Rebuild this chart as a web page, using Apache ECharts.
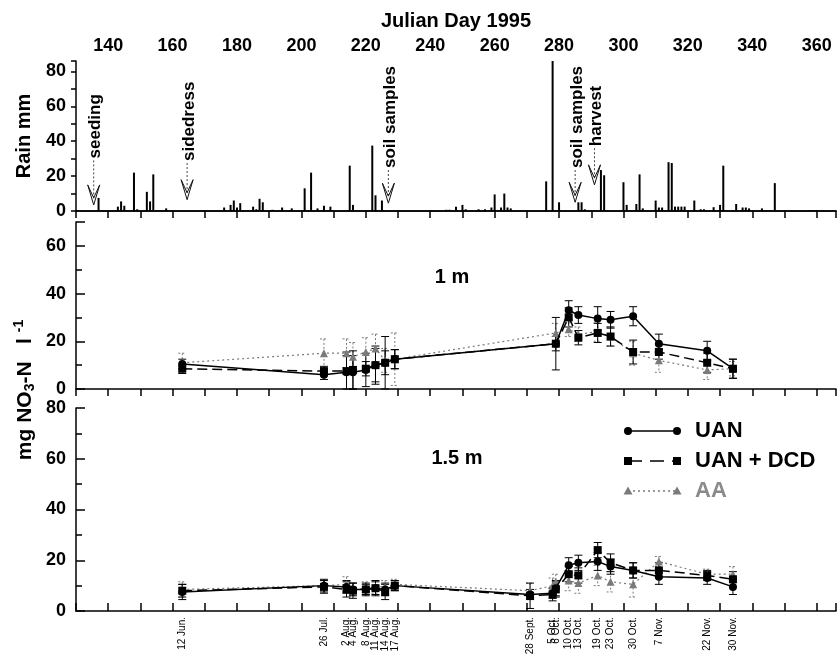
<!DOCTYPE html>
<html><head><meta charset="utf-8">
<script src="https://cdn.jsdelivr.net/npm/echarts@6/dist/echarts.min.js"></script>
<style>html,body{margin:0;padding:0;background:#fff}#c{width:838px;height:655px}</style>
</head><body><div id="c"></div>
<script>
// ---------- DATA ----------
const rainDays = [137,143,144,145,148,149,152,153,154,158,176,178,179,180,181,185,186,187,188,191,194,197,201,203,205,207,209,215,216,222,223,225,245,246,248,250,251,255,257,259,260,262,263,264,265,276,278,280,286,287,288,293,294,300,301,304,305,306,310,311,312,314,315,316,317,318,319,322,324,325,328,330,331,335,337,338,339,343,347,358,359,360];
const rainMm   = [7.5,2.5,5.5,3,22,1,11,5.5,21,1.5,2,3.5,6,2,4.5,2.5,1,7,5,0.7,2,1.5,13,22,1.5,3,2.5,26,3.5,37.5,9,6,0.7,0.7,2.5,3.5,1,1,1,2,9.5,2,10,2,1.5,17,86,5,5,5,1,23.5,20.5,16.5,3.5,4,21,1.5,6,2,2,28,27.5,2.5,2.5,2.5,2.5,6,1,1,2.2,3.5,26,4,2,2,1.5,1.5,16,0.5,0.5,0.5];

const eventDays   = [135.5,164.5,227,285,291];
const eventLabels = ['seeding','sidedress','soil samples','soil samples','harvest'];

const days1m = [163,207,214,216,220,223,226,229,279,283,286,292,296,303,311,326,334];
const uan1m  = [10.5,6,7,7,8,10,11,12.5,19,33,31,29.5,29,30.5,19,16,8.5];
const dcd1m  = [8.5,7.5,7.5,8,8.5,10,11,12.5,19,30,21.5,23.5,22,15.5,15.5,11,8.5];
const aa1m   = [11,15,15,13.5,15.5,17,12,12.5,23.5,25,23,24,22,15,12,8,8.5];
const errUan1m = [2,2,7,7,7,7,11,4,11,4,3.5,5,3.5,4,4,4,4];
const errDcd1m = [2,2,8,8,3,8,5,4,3,4,3,4,4,5,3,4,4];
const errAa1m  = [4,6,6,6,6,6,5,11,4,3,3,4,4,5,5,4,3];

const days15m = [163,207,214,216,220,223,226,229,271,278,279,283,286,292,296,303,311,326,334];
const uan15m  = [7.5,10,9.5,8.5,8.5,9,8.5,10,6.5,7,9,18,19,19.5,17.5,16,13.5,13,9.5];
const dcd15m  = [8,9.5,8.5,8,8.5,9,7.5,10,6,6.5,8.5,14.5,14,24,19,16,16,14,12.5];
const aa15m   = [8.5,10,10.5,8.5,9,9.5,9.5,10.5,8,10,11.5,12,11,14,11.5,10.5,19.5,14.5,14.5];
const errUan15m = [3,2.5,2.5,2.5,2.5,2.5,2.5,2,2,2,3,3,3,3.5,3,3,3,2.5,3];
const errDcd15m = [2.5,2.5,3,3,2,3,3,2,5,2.5,3,3,3,3,3.5,3,3,2,3];
const errAa15m  = [3,2,3,2.5,2.5,2.5,2.5,2,3,3,3,4,4,4,4,5,2,2,3];

const dateDays   = [163,207,214,216,220,223,226,229,271,278,279,283,286,292,296,303,311,326,334];
const dateLabels = ['12 Jun.','26 Jul.','2 Aug.','4 Aug.','8 Aug.','11 Aug.','14 Aug.','17 Aug.','28 Sept.','5 Oct.','6 Oct.','10 Oct.','13 Oct.','19 Oct.','23 Oct.','30 Oct.','7 Nov.','22 Nov.','30 Nov.'];

// ---------- LAYOUT / STYLE ----------
const FONT = '"Liberation Sans", Arial, Helvetica, sans-serif';
const eventLayout = [[29,3.5],[27.5,6.5],[23.5,4.5],[23.5,5],[36,15]]; // text base / arrow tip, in mm units
const GRAY = '#7a7a7a';
const pairs = (xs, ys) => xs.map((x, i) => [x, ys[i]]);
const triples = (xs, ys, es) => xs.map((x, i) => [x, ys[i], es[i]]);
const dateMap = {}; dateDays.forEach((d, i) => dateMap[d] = dateLabels[i]);

const chart = echarts.init(document.getElementById('c'), null, {renderer: 'canvas'});

const lblStyle = {fontSize: 18, fontWeight: 'bold', color: '#000', fontFamily: FONT};
const blackLine = {color: '#000', width: 1.5};

function xAx(grid, extra) {
  return Object.assign({
    gridIndex: grid, type: 'value', min: 130, max: 366, interval: 10,
    axisLine: {show: true, lineStyle: blackLine},
    axisTick: {show: true, length: 7, lineStyle: blackLine},
    axisLabel: {show: false},
    splitLine: {show: false}
  }, extra);
}
function yAx(grid, extra) {
  return Object.assign({
    gridIndex: grid, type: 'value', min: 0,
    axisLine: {show: true, lineStyle: blackLine},
    axisTick: {show: true, inside: true, length: 9, lineStyle: blackLine},
    minorTick: {show: true, splitNumber: 2, length: 6, lineStyle: blackLine},
    axisLabel: Object.assign({formatter: v => (v % 20 === 0 ? v : ''), margin: 10}, lblStyle),
    splitLine: {show: false}, minorSplitLine: {show: false}
  }, extra);
}

function errRender(style) {
  return function (params, api) {
    const x = api.value(0), y = api.value(1), e = api.value(2);
    const lo = Math.max(0, y - e);
    const t = api.coord([x, y + e]), b = api.coord([x, lo]);
    const w = 4;
    const ch = [
      {type: 'line', shape: {x1: t[0], y1: t[1], x2: b[0], y2: b[1]}, style},
      {type: 'line', shape: {x1: t[0] - w, y1: t[1], x2: t[0] + w, y2: t[1]}, style}
    ];
    if (y - e >= 0) ch.push({type: 'line', shape: {x1: b[0] - w, y1: b[1], x2: b[0] + w, y2: b[1]}, style});
    return {type: 'group', children: ch};
  };
}
const errBlack = {stroke: '#000', lineWidth: 1};
const errGray = {stroke: GRAY, lineWidth: 1, lineDash: [2, 2]};

function panelSeries(grid, xIdx, yIdx, days, u, d, a, eu, ed, ea) {
  const base = {xAxisIndex: xIdx, yAxisIndex: yIdx, animation: false};
  return [
    Object.assign({type: 'custom', renderItem: errRender(errGray), data: triples(days, a, ea), z: 1, clip: false}, base),
    Object.assign({type: 'custom', renderItem: errRender(errBlack), data: triples(days, d, ed), z: 1, clip: false}, base),
    Object.assign({type: 'custom', renderItem: errRender(errBlack), data: triples(days, u, eu), z: 1, clip: false}, base),
    Object.assign({type: 'line', name: 'AA', data: pairs(days, a), symbol: 'triangle', symbolSize: 8,
      itemStyle: {color: GRAY}, lineStyle: {color: GRAY, width: 1.2, type: [2, 3]}, z: 3}, base),
    Object.assign({type: 'line', name: 'UAN + DCD', data: pairs(days, d), symbol: 'rect', symbolSize: 8,
      itemStyle: {color: '#000'}, lineStyle: {color: '#000', width: 1.5, type: [10, 5]}, z: 4}, base),
    Object.assign({type: 'line', name: 'UAN', data: pairs(days, u), symbol: 'circle', symbolSize: 8,
      itemStyle: {color: '#000'}, lineStyle: {color: '#000', width: 1.5}, z: 5}, base)
  ];
}

function legendRow(y, dash, color, sym, text, textColor) {
  const x1 = 628, x2 = 677;
  const els = [{type: 'line', shape: {x1, y1: y, x2, y2: y}, style: {stroke: color, lineWidth: 1.5, lineDash: dash}}];
  [x1, x2].forEach(x => {
    if (sym === 'circle') els.push({type: 'circle', shape: {cx: x, cy: y, r: 4}, style: {fill: color}});
    else if (sym === 'rect') els.push({type: 'rect', shape: {x: x - 4, y: y - 4, width: 8, height: 8}, style: {fill: color}});
    else els.push({type: 'polygon', shape: {points: [[x, y - 4.5], [x - 4.5, y + 3.5], [x + 4.5, y + 3.5]]}, style: {fill: color}});
  });
  els.push({type: 'text', x: 695, y: y, style: {text, fill: textColor, font: 'bold 22px ' + FONT, verticalAlign: 'middle', align: 'left'}});
  return els;
}

const option = {
  animation: false,
  textStyle: {fontFamily: FONT},
  grid: [
    {left: 76, top: 61, width: 760, height: 150, outerBoundsMode: 'none'},
    {left: 76, top: 222, width: 760, height: 167, outerBoundsMode: 'none'},
    {left: 76, top: 408, width: 760, height: 203, outerBoundsMode: 'none'}
  ],
  xAxis: [
    xAx(0, {position: 'top', name: 'Julian Day 1995', nameLocation: 'middle', nameGap: 30,
      nameTextStyle: {fontSize: 20, fontWeight: 'bold', color: '#000', fontFamily: FONT},
      axisTick: {show: true, inside: true, length: 7, lineStyle: blackLine},
      axisLabel: Object.assign({show: true, margin: 6, formatter: v => (v % 20 === 0 ? v : '')}, lblStyle)}),
    xAx(0, {position: 'bottom'}),
    xAx(1, {position: 'bottom'}),
    xAx(2, {position: 'bottom', axisTick: {show: true, inside: true, length: 8, lineStyle: blackLine},
      axisLabel: {show: true, customValues: dateDays, formatter: v => dateMap[v] || '', rotate: 90,
        fontSize: 10, color: '#000', fontFamily: FONT, margin: 6, hideOverlap: false}})
  ],
  yAxis: [
    yAx(0, {max: 86, interval: 10, name: 'Rain mm', nameLocation: 'middle', nameGap: 42,
      nameTextStyle: {fontSize: 20, fontWeight: 'bold', color: '#000', fontFamily: FONT},
      axisTick: {show: true, inside: false, length: 5, lineStyle: blackLine}, minorTick: {show: false}}),
    yAx(1, {max: 70, interval: 20}),
    yAx(2, {max: 80, interval: 20})
  ],
  graphic: [
    {type: 'text', x: 25, y: 390, rotation: Math.PI / 2,
      style: {text: '{a|mg NO}{s|3}{a|-N   l }{p|-1}', align: 'center', verticalAlign: 'middle',
        rich: {a: {fontSize: 21, fontWeight: 'bold', fontFamily: FONT, fill: '#000'},
               s: {fontSize: 14, fontWeight: 'bold', fontFamily: FONT, fill: '#000', padding: [11, 0, 0, 0]},
               p: {fontSize: 14, fontWeight: 'bold', fontFamily: FONT, fill: '#000', padding: [0, 0, 11, 0]}}}},
    {type: 'text', x: 452, y: 277, style: {text: '1 m', font: 'bold 20px ' + FONT, fill: '#000', align: 'center', verticalAlign: 'middle'}},
    {type: 'text', x: 457, y: 458, style: {text: '1.5 m', font: 'bold 20px ' + FONT, fill: '#000', align: 'center', verticalAlign: 'middle'}}
  ].concat(
    legendRow(431, null, '#000', 'circle', 'UAN', '#000'),
    legendRow(461, [14, 8], '#000', 'rect', 'UAN + DCD', '#000'),
    legendRow(491, [2, 3], GRAY, 'triangle', 'AA', '#8a8a8a')
  ),
  series: [
    {type: 'bar', xAxisIndex: 1, yAxisIndex: 0, data: pairs(rainDays, rainMm), barWidth: 2,
      itemStyle: {color: '#000'}, z: 2},
    {type: 'custom', xAxisIndex: 1, yAxisIndex: 0, clip: false, z: 3,
      data: eventDays.map((d, i) => [d, eventLayout[i][0], eventLayout[i][1]]),
      renderItem: function (params, api) {
        const d = api.value(0);
        const base = api.coord([d, api.value(1)]);
        const tip = api.coord([d, api.value(2)]);
        return {type: 'group', children: [
          {type: 'text', x: base[0] + 2, y: base[1] - 2, rotation: Math.PI / 2,
            style: {text: eventLabels[params.dataIndex], font: 'bold 17px ' + FONT, fill: '#000', align: 'left', verticalAlign: 'middle'}},
          {type: 'line', shape: {x1: base[0], y1: base[1], x2: tip[0], y2: tip[1] - 6},
            style: {stroke: '#444', lineWidth: 1, lineDash: [2, 2]}},
          {type: 'polygon', shape: {points: [[tip[0] - 6, tip[1] - 20], [tip[0], tip[1]], [tip[0] + 6, tip[1] - 20], [tip[0], tip[1] - 7]]},
            style: {fill: 'none', stroke: '#111', lineWidth: 1}}
        ]};
      }}
  ].concat(
    panelSeries(1, 2, 1, days1m, uan1m, dcd1m, aa1m, errUan1m, errDcd1m, errAa1m),
    panelSeries(2, 3, 2, days15m, uan15m, dcd15m, aa15m, errUan15m, errDcd15m, errAa15m)
  )
};
chart.setOption(option);
</script></body></html>
